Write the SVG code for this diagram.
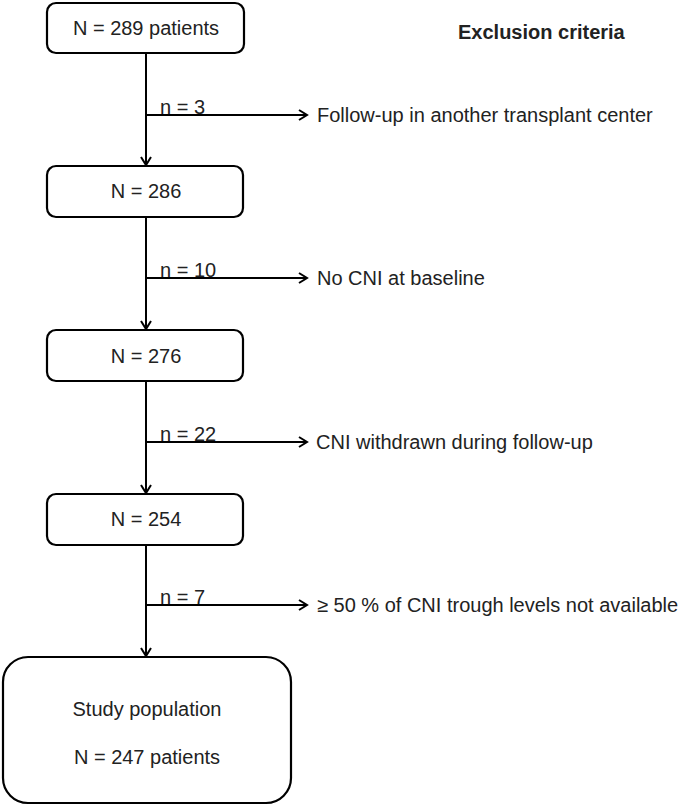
<svg xmlns="http://www.w3.org/2000/svg" width="685" height="807" viewBox="0 0 685 807">
<defs>
<marker id="arr" markerWidth="12" markerHeight="12" refX="10" refY="6" orient="auto" markerUnits="userSpaceOnUse">
<path d="M2,1 L10,6 L2,11" fill="none" stroke="#000" stroke-width="2"/>
</marker>
<style>
.box{fill:#fff;stroke:#000;stroke-width:2.2}
.t{font-family:"Liberation Sans",Arial,sans-serif;font-size:20px;fill:#222}
.c{text-anchor:middle}
.ln{stroke:#000;stroke-width:2;fill:none}
</style>
</defs>
<rect width="685" height="807" fill="#fff"/>
<g id="n1"><rect class="box" x="47" y="3" width="197" height="50" rx="9"/><text class="t c" x="146" y="35">N = 289 patients</text></g>
<g id="n2"><rect class="box" x="47" y="166" width="196" height="51" rx="9"/><text class="t c" x="146" y="198">N = 286</text></g>
<g id="n3"><rect class="box" x="47" y="330" width="196" height="51" rx="9"/><text class="t c" x="146" y="363">N = 276</text></g>
<g id="n4"><rect class="box" x="47" y="494" width="196" height="51" rx="9"/><text class="t c" x="146" y="526">N = 254</text></g>
<g id="n5"><rect class="box" x="3" y="657" width="288" height="146" rx="25"/><text class="t c" x="147" y="716">Study population</text><text class="t c" x="147" y="764">N = 247 patients</text></g>
<g id="hdr"><text class="t" x="458" y="39" font-weight="bold" fill="#000">Exclusion criteria</text></g>
<g id="connectors">
<line class="ln" x1="146" y1="53" x2="146" y2="165" marker-end="url(#arr)"/>
<line class="ln" x1="146" y1="217" x2="146" y2="329" marker-end="url(#arr)"/>
<line class="ln" x1="146" y1="381" x2="146" y2="493" marker-end="url(#arr)"/>
<line class="ln" x1="146" y1="545" x2="146" y2="656" marker-end="url(#arr)"/>
<line class="ln" x1="146" y1="115" x2="307" y2="115" marker-end="url(#arr)"/>
<line class="ln" x1="146" y1="278" x2="307" y2="278" marker-end="url(#arr)"/>
<line class="ln" x1="146" y1="442" x2="307" y2="442" marker-end="url(#arr)"/>
<line class="ln" x1="146" y1="605" x2="307" y2="605" marker-end="url(#arr)"/>
</g>
<g id="labels">
<text class="t" x="160" y="114">n = 3</text>
<text class="t" x="160" y="277">n = 10</text>
<text class="t" x="160" y="441">n = 22</text>
<text class="t" x="160" y="604">n = 7</text>
<text class="t" x="317" y="122">Follow-up in another transplant center</text>
<text class="t" x="317" y="285">No CNI at baseline</text>
<text class="t" x="316" y="449">CNI withdrawn during follow-up</text>
<text class="t" x="317" y="612">≥ 50 % of CNI trough levels not available</text>
</g>
</svg>
